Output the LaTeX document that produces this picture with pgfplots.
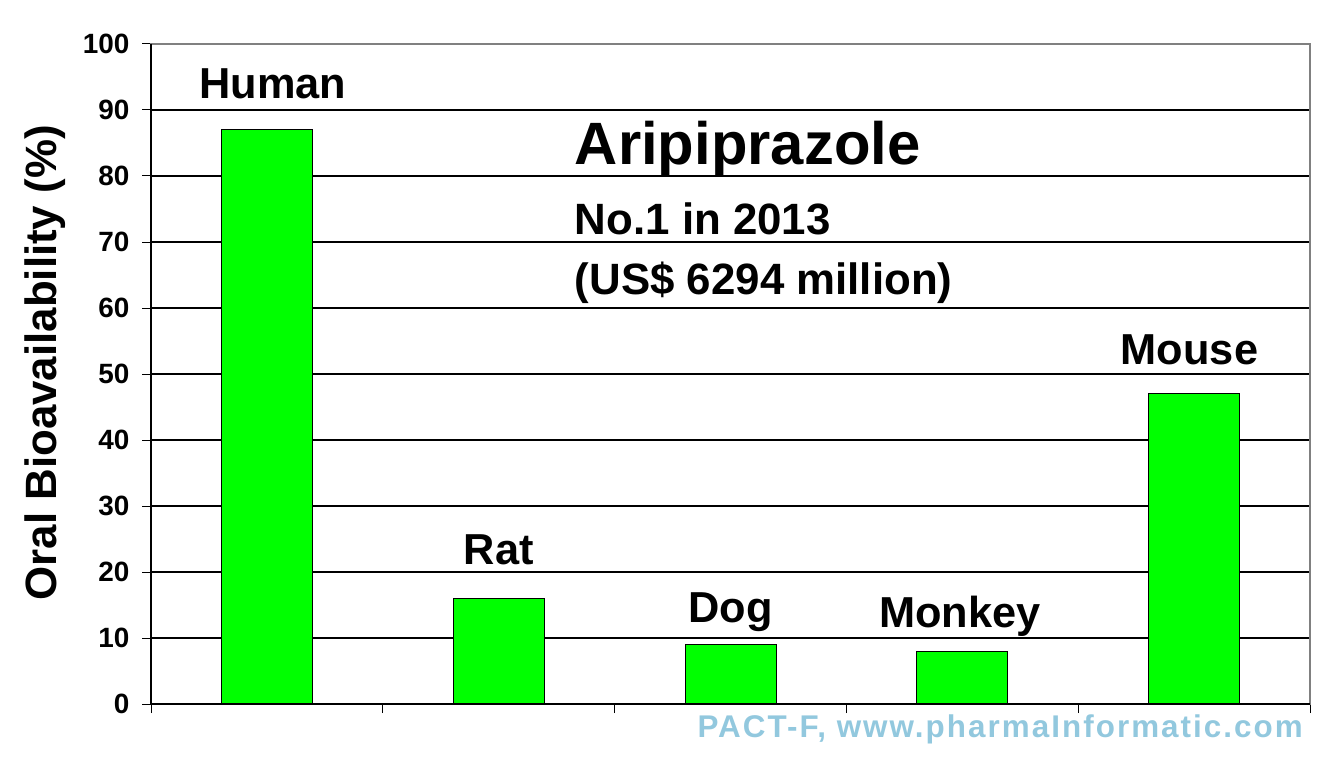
\documentclass[border=0pt]{standalone}
\usepackage{fontspec}
\setmainfont{Liberation Sans}
\newfontfamily\wmfont[LetterSpace=6.5]{Liberation Sans}
\usepackage{pgfplots}
\pgfplotsset{compat=1.18}
\definecolor{barg}{RGB}{0,255,0}
\definecolor{wm}{RGB}{146,200,222}
\begin{document}
\begin{tikzpicture}
\begin{axis}[
  scale only axis,
  width=1159bp, height=660bp,
  xmin=-0.5, xmax=4.5, ymin=0, ymax=100,
  ybar, bar width=91bp, bar shift=0pt,
  xtick={-0.5,0.5,1.5,2.5,3.5,4.5},
  xticklabels={},
  ytick={0,10,...,100},
  tick pos=left, tick align=outside,
  major tick length=9bp,
  every tick/.style={black, line width=1pt},
  ymajorgrids,
  grid style={black, line width=1.3pt},
  axis line style={draw=gray, line width=1.3pt},
  /pgf/number format/assume math mode=true,
  tick label style={font=\fontsize{28}{28}\selectfont\bfseries},
  yticklabel style={xshift=-9bp},
  ylabel={Oral Bioavailability (\%)},
  ylabel style={at={(axis description cs:-0.0915,0.517)}, anchor=center, font=\fontsize{44}{44}\selectfont\bfseries},
  clip=false,
]
\addplot[fill=barg, draw=black, line width=1pt] coordinates {(0,87) (1,16) (2,9) (3,8) (4,47)};
\begin{scope}[every node/.style={anchor=base, font=\fontsize{43.5}{43.5}\selectfont\bfseries}]
\node at (axis cs:0.025,91.8) {Human};
\node at (axis cs:1,21.2) {Rat};
\node at (axis cs:2,12.3) {Dog};
\node at (axis cs:2.99,11.6) {Monkey};
\node at (axis cs:3.98,51.4) {Mouse};
\end{scope}
\node[anchor=base west, inner sep=0pt, font=\fontsize{60}{60}\selectfont\bfseries] at (axis cs:1.328,81.7) {Aripiprazole};
\node[anchor=base west, inner sep=0pt, font=\fontsize{44}{44}\selectfont\bfseries] at (axis cs:1.328,71.2) {No.1 in 2013};
\node[anchor=base west, inner sep=0pt, font=\fontsize{44}{44}\selectfont\bfseries] at (axis cs:1.328,62.0) {(US\$ 6294 million)};
\end{axis}
\draw[black, line width=1.3pt] (current axis.north west) -- (current axis.south west) -- (current axis.south east);
\node[anchor=base east, inner sep=0pt, text=wm, font=\wmfont\fontsize{31.5}{31.5}\selectfont\bfseries] at ([xshift=-7bp,yshift=-33bp]current axis.south east) {PACT-F, www.pharmaInformatic.com};
\pgfresetboundingbox
\path ([xshift=-151bp,yshift=44bp]current axis.north west) rectangle ([xshift=30bp,yshift=-54bp]current axis.south east);
\end{tikzpicture}
\end{document}
